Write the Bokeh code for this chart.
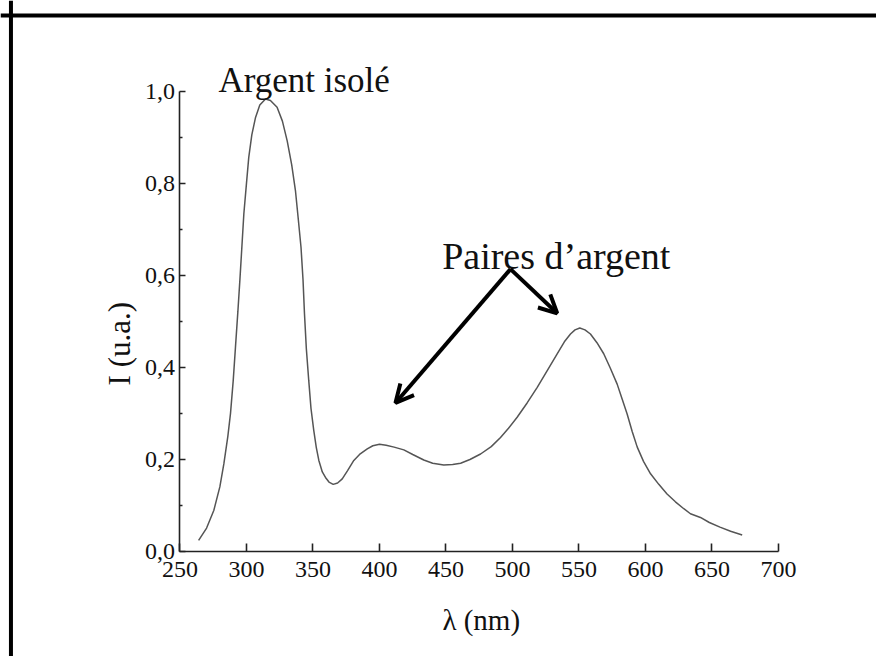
import math
from bokeh.plotting import figure
from bokeh.models import Range1d, FixedTicker, CustomJSTickFormatter, Label, Arrow, OpenHead, Span
from bokeh.embed import file_html
from bokeh.resources import INLINE

# ---- data ----
wavelength = [264, 270, 275.4, 280, 283, 286, 288, 290, 291.7, 293.5, 295, 296.5, 298, 300,
              301.7, 304, 306.8, 310, 314.3, 318, 323, 327, 330.6, 334, 336.8, 339, 341,
              342.5, 343.6, 345, 346.8, 348.5, 350.6, 352.5, 354.4, 357, 359.4, 362, 365.2,
              368.5, 372, 376, 380.7, 385, 390.8, 395, 400, 405, 411, 418.3, 425, 433.3, 440,
              448.3, 455, 461, 468, 476, 484, 491, 497, 503.5, 511, 518.6, 526, 533.6, 539,
              543.6, 547, 550.6, 554.5, 558.6, 563.5, 568.6, 573.5, 578.7, 582.5, 586.2, 590,
              593.8, 598.5, 603.8, 610, 616.2, 622.5, 628.8, 633.8, 641.3, 648, 656, 664, 672.7]
intensity = [0.023, 0.05, 0.088, 0.14, 0.19, 0.25, 0.30, 0.37, 0.443, 0.52, 0.588, 0.66, 0.733, 0.80,
             0.856, 0.905, 0.943, 0.97, 0.983, 0.98, 0.965, 0.935, 0.892, 0.84, 0.784, 0.72, 0.66,
             0.59, 0.516, 0.44, 0.371, 0.31, 0.262, 0.225, 0.197, 0.172, 0.16, 0.15, 0.145,
             0.148, 0.157, 0.175, 0.197, 0.21, 0.222, 0.229, 0.232, 0.23, 0.226, 0.22, 0.21, 0.198, 0.191,
             0.187, 0.188, 0.191, 0.199, 0.211, 0.227, 0.247, 0.267, 0.291, 0.322, 0.356, 0.392, 0.429, 0.455,
             0.472, 0.481, 0.485, 0.481, 0.472, 0.453, 0.429, 0.398, 0.363, 0.33, 0.298, 0.26,
             0.226, 0.195, 0.168, 0.145, 0.124, 0.107, 0.092, 0.081, 0.073, 0.062, 0.052, 0.043, 0.035]

x_ticks = [250, 300, 350, 400, 450, 500, 550, 600, 650, 700]
y_ticks = [0.0, 0.2, 0.4, 0.6, 0.8, 1.0]
y_minor_ticks = [0.1, 0.3, 0.5, 0.7, 0.9]
x_axis_span = (250, 700)
y_axis_span = (0.0, 1.0)

x_title = "λ (nm)"
y_title = "I (u.a.)"
peak_text = "Argent isolé"
pairs_text = "Paires d’argent"

# annotation anchors (data units)
peak_text_pos = (278.9, 1.023)
pairs_text_pos = (447.1, 0.642)
arrow_origin = (498.5, 0.613)
arrow_targets_x = [412.0, 533.6]
arrow_targets_y = [0.322, 0.517]
y_title_pos = (204.5, 0.451)
x_title_pos = (476.5, -0.149)
frame_left_x = 122.9      # data x of the left edge of the black frame
frame_top_y = 1.1646      # data y of the top edge of the black frame

SERIF = "Liberation Serif"

# the plotting area covers the whole canvas; axes are pinned at x=250 / y=0
p = figure(width=876, height=656, x_range=Range1d(115.04, 773.69), y_range=Range1d(-0.2294, 1.1973),
           output_backend="svg", toolbar_location=None,
           min_border_left=0, min_border_right=0, min_border_top=0, min_border_bottom=0)

p.grid.visible = False
p.outline_line_color = None
p.background_fill_color = "white"
p.border_fill_color = "white"

p.xaxis.fixed_location = y_axis_span[0]
p.yaxis.fixed_location = x_axis_span[0]
p.xaxis.bounds = x_axis_span
p.yaxis.bounds = y_axis_span

p.xaxis.ticker = FixedTicker(ticks=x_ticks, minor_ticks=[])
p.yaxis.ticker = FixedTicker(ticks=y_ticks, minor_ticks=y_minor_ticks)
p.yaxis.formatter = CustomJSTickFormatter(code="return tick.toFixed(1).replace('.', ',');")

for ax in (p.xaxis, p.yaxis):
    ax.axis_line_color = "#222"
    ax.axis_line_width = 1.6
    ax.major_tick_line_color = "#222"
    ax.major_tick_line_width = 1.6
    ax.minor_tick_line_color = "#222"
    ax.minor_tick_line_width = 1.6
    ax.major_tick_out = 0
    ax.minor_tick_out = 0
    ax.major_label_text_font = SERIF
    ax.major_label_text_font_size = "24px"
    ax.major_label_text_color = "#111"

p.xaxis.major_label_standoff = 11
p.yaxis.major_label_standoff = 5
p.xaxis.major_tick_in = 8
p.xaxis.minor_tick_in = 0
p.yaxis.major_tick_in = 6
p.yaxis.minor_tick_in = 3

p.line(wavelength, intensity, line_color="#555", line_width=1.5)

p.add_layout(Label(x=peak_text_pos[0], y=peak_text_pos[1], text=peak_text,
                   text_font=SERIF, text_font_size="35px", text_color="#111",
                   text_align="left", text_baseline="alphabetic"))
p.add_layout(Label(x=pairs_text_pos[0], y=pairs_text_pos[1], text=pairs_text,
                   text_font=SERIF, text_font_size="38px", text_color="#111",
                   text_align="left", text_baseline="alphabetic"))
p.add_layout(Label(x=y_title_pos[0], y=y_title_pos[1], text=y_title, angle=math.pi / 2,
                   text_font=SERIF, text_font_size="31px", text_color="#111",
                   text_align="center", text_baseline="middle"))
p.add_layout(Label(x=x_title_pos[0], y=x_title_pos[1], text=x_title,
                   text_font=SERIF, text_font_size="29px", text_color="#111",
                   text_align="center", text_baseline="middle"))

for tx, ty in zip(arrow_targets_x, arrow_targets_y):
    p.add_layout(Arrow(end=OpenHead(size=18, line_width=4, line_color="#000"),
                       x_start=arrow_origin[0], y_start=arrow_origin[1],
                       x_end=tx, y_end=ty, line_width=4, line_color="#000"))

p.add_layout(Span(location=frame_left_x, dimension="height", line_color="#000", line_width=4))
p.add_layout(Span(location=frame_top_y, dimension="width", line_color="#000", line_width=4))

open("out.html", "w").write(file_html(p, INLINE))
